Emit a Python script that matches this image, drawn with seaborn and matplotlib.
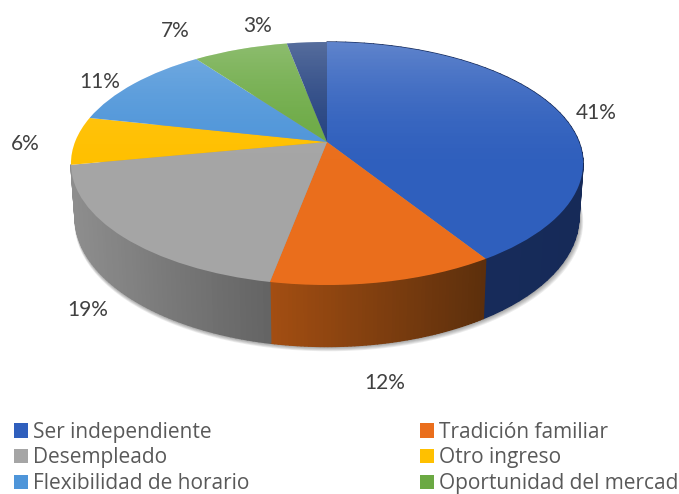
import numpy as np
import seaborn as sns
import matplotlib.pyplot as plt
from matplotlib.collections import PolyCollection
from matplotlib.colors import to_rgb
from matplotlib.patches import Circle, Patch
from matplotlib.transforms import Transform

# data
categories = ["Ser independiente", "Tradición familiar", "Desempleado", "Otro ingreso",
              "Flexibilidad de horario", "Oportunidad del mercado", "Otros"]
values = [41, 12, 19, 6.4, 11.5, 7.1, 3]
pct_labels = ["41%", "12%", "19%", "6%", "11%", "7%", "3%"]

# colours
top_colors = ["#2F5FBD", "#EA6E1C", "#A5A5A5", "#FFC000", "#4E95D9", "#6BA943", "#23417F"]
# only the three front slices show a wall
side_left = ["#182D5E", "#A34E12", "#8E8E8E"]
side_right = ["#162A58", "#5C2F0C", "#636363"]
text_color = "#404040"
legend_color = "#595959"

# label placement, in pixels
label_pos = [(596, 113), (385, 383), (88, 310), (25, 144), (100, 82), (175, 31), (258, 26)]

CX, CY = 327, 142
K = 0.177


class Tilt(Transform):
    """Perspective view of the unit pie, ends up in pixel coordinates."""
    input_dims = 2
    output_dims = 2

    def __init__(self, sx=252, sy=117.7, drop=0, shift=0):
        super().__init__()
        self.sx, self.sy, self.drop, self.shift = sx, sy, drop, shift

    def transform_non_affine(self, xy):
        xy = np.asarray(xy, dtype=float)
        w = 1 + K * xy[:, 1]
        px = CX + self.shift + self.sx * xy[:, 0] / w
        py = CY + self.drop - self.sy * xy[:, 1] / w
        return np.column_stack([px, py])


def blend(c1, c2, t):
    a, b = np.array(to_rgb(c1)), np.array(to_rgb(c2))
    return tuple(a + (b - a) * t)


sns.set_theme(style="white")
plt.rcParams["font.family"] = ["Lato", "DejaVu Sans"]
palette = sns.color_palette(top_colors)

fig = plt.figure(figsize=(6.79, 4.94), dpi=100)
ax = fig.add_axes([0, 0, 1, 1])

top_tilt = Tilt()
bottom_tilt = Tilt(sx=248, sy=125.5, drop=52)

# pie top
wedges, _ = ax.pie(values, colors=palette, startangle=90, counterclock=False, radius=1)
ax.set_xlim(0, 679)
ax.set_ylim(494, 0)
ax.axis("off")

for w in wedges:
    w.set_transform(top_tilt + ax.transData)
    w.set_zorder(5)
    w.set_edgecolor("none")

# soft shadow under the wall
for i in range(7):
    shadow = Circle((0, 0), 1, facecolor="black", edgecolor="none", alpha=0.07, zorder=1,
                    transform=Tilt(sx=248 + i * 0.4, sy=125.5, drop=52 + i * 0.8, shift=i * 0.3) + ax.transData)
    ax.add_patch(shadow)

# outer wall, thin strips per slice
for w, c1, c2 in zip(wedges, side_left, side_right):
    t = np.radians(np.linspace(w.theta1, w.theta2, 60))
    ring = np.column_stack([np.cos(t), np.sin(t)])
    upper = top_tilt.transform(ring)
    lower = bottom_tilt.transform(ring)
    quads, cols = [], []
    # strip colour follows screen x
    xmin, xmax = upper[:, 0].min(), upper[:, 0].max()
    for j in range(len(t) - 1):
        quads.append([upper[j], upper[j + 1], lower[j + 1], lower[j]])
        cols.append(blend(c1, c2, (upper[j, 0] - xmin) / max(xmax - xmin, 1)))
    ax.add_collection(PolyCollection(quads, facecolors=cols, edgecolors=cols, linewidths=1.0, zorder=3))

# light falling off from the back of the top face
rim = Circle((0, 0), 1, facecolor="none", edgecolor="none", transform=top_tilt + ax.transData)
ax.add_patch(rim)
fade = np.ones((256, 2, 4))
fade[..., 3] = (0.24 * (1 - np.linspace(0, 1, 256)) ** 2)[:, None]
im = ax.imshow(fade, extent=(60, 600, 185, 42), aspect="auto", zorder=6, interpolation="bilinear")
im.set_clip_path(rim)
ax.set_xlim(0, 679)
ax.set_ylim(494, 0)

# percent labels
for txt, (x, y) in zip(pct_labels, label_pos):
    ax.text(x, y, txt, ha="center", va="center", fontsize=15, color=text_color, zorder=8)

# legend, filled row by row in the original
order = [0, 2, 4, 1, 3, 5]
handles = [Patch(facecolor=palette[i], edgecolor="none", label=categories[i]) for i in order]
leg = fig.legend(handles=handles, ncols=2, loc="lower left", bbox_to_anchor=(0.02, 0.0),
                 frameon=False, prop={"family": "Open Sans", "size": 15}, labelcolor=legend_color,
                 handlelength=0.67, handleheight=0.67, handletextpad=0.25, labelspacing=0.22,
                 columnspacing=8.2, borderpad=0, borderaxespad=0)

fig.savefig("out.png", dpi=100)
